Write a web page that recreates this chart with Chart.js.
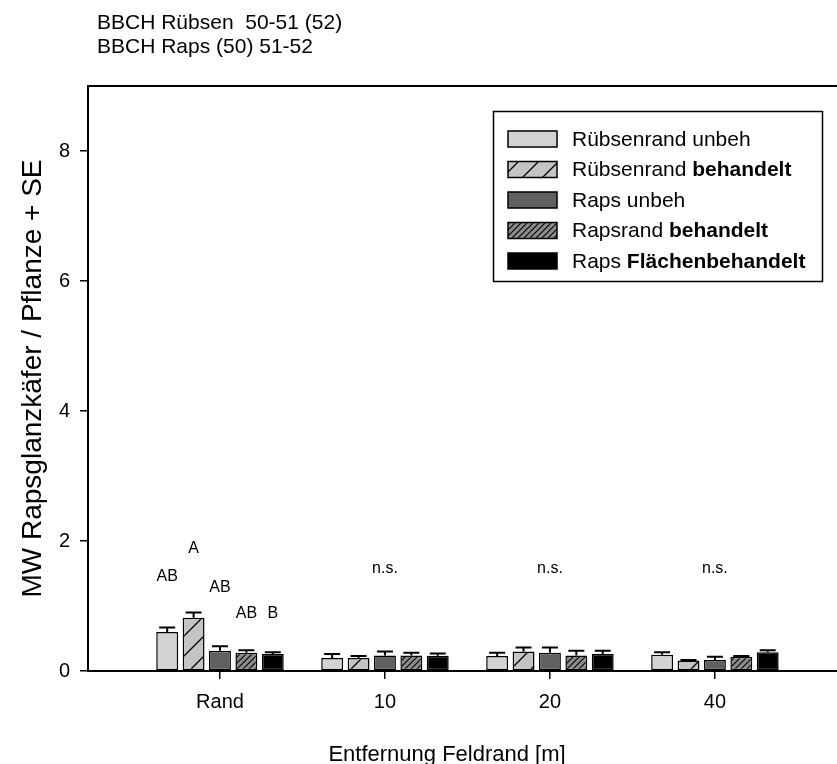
<!DOCTYPE html>
<html>
<head>
<meta charset="utf-8">
<script src="https://cdn.jsdelivr.net/npm/chart.js@4.4.0/dist/chart.umd.min.js"></script>
<style>
  html, body { margin: 0; padding: 0; background: #fff; }
</style>
</head>
<body>
<canvas id="chart" width="837" height="764"></canvas>
<script>
// data
const categories = ["Rand", "10", "20", "40"];
const rubsenUnbeh = [0.60, 0.20, 0.23, 0.25];
const rubsenBeh = [0.82, 0.20, 0.30, 0.16];
const rapsUnbeh = [0.31, 0.24, 0.28, 0.17];
const rapsrandBeh = [0.28, 0.24, 0.24, 0.22];
const rapsFlaeche = [0.26, 0.235, 0.26, 0.29];

const seRubsenUnbeh = [0.07, 0.06, 0.05, 0.04];
const seRubsenBeh = [0.08, 0.03, 0.06, 0.01];
const seRapsUnbeh = [0.07, 0.06, 0.08, 0.05];
const seRapsrandBeh = [0.04, 0.04, 0.07, 0.01];
const seRapsFlaeche = [0.03, 0.035, 0.05, 0.03];

const yTicks = [0, 2, 4, 6, 8];

// legend text: normal part, bold part
const legendNormal = ["Rübsenrand unbeh", "Rübsenrand ", "Raps unbeh", "Rapsrand ", "Raps "];
const legendBold = ["", "behandelt", "", "behandelt", "Flächenbehandelt"];

// significance letters (only Rand group), and their heights
const randLetters = ["AB", "A", "AB", "AB", "B"];
const randLetterY = [1.45, 1.89, 1.29, 0.89, 0.89];
const nsText = "n.s.";
const nsY = 1.58;

const headerLines = ["BBCH Rübsen  50-51 (52)", "BBCH Raps (50) 51-52"];
const yTitle = "MW Rapsglanzkäfer / Pflanze + SE";
const xTitle = "Entfernung Feldrand [m]";

const FONT = '"Liberation Sans", Arial, sans-serif';

const ctx = document.getElementById("chart").getContext("2d");

function hatch(bg, step, lw) {
  const c = document.createElement("canvas");
  c.width = step;
  c.height = step;
  const g = c.getContext("2d");
  g.fillStyle = bg;
  g.fillRect(0, 0, step, step);
  g.strokeStyle = "#000";
  g.lineWidth = lw;
  g.beginPath();
  g.moveTo(-1, step + 1); g.lineTo(step + 1, -1);
  g.moveTo(-1, 1); g.lineTo(1, -1);
  g.moveTo(step - 1, step + 1); g.lineTo(step + 1, step - 1);
  g.stroke();
  return ctx.createPattern(c, "repeat");
}

const fills = [
  "#d3d3d3",
  hatch("#c4c4c4", 20, 1.3),
  "#606060",
  hatch("#8c8c8c", 6, 1.1),
  "#000000",
];
const values = [rubsenUnbeh, rubsenBeh, rapsUnbeh, rapsrandBeh, rapsFlaeche];
const errors = [seRubsenUnbeh, seRubsenBeh, seRapsUnbeh, seRapsrandBeh, seRapsFlaeche];

const extras = {
  id: "extras",
  afterDatasetsDraw(chart) {
    const c = chart.ctx;
    const y = chart.scales.y;
    c.save();
    c.strokeStyle = "#000";
    c.lineWidth = 2;
    chart.data.datasets.forEach((ds, i) => {
      chart.getDatasetMeta(i).data.forEach((bar, k) => {
        const top = y.getPixelForValue(values[i][k] + errors[i][k]);
        c.beginPath();
        c.moveTo(bar.x, bar.y);
        c.lineTo(bar.x, top);
        c.moveTo(bar.x - 8, top);
        c.lineTo(bar.x + 8, top);
        c.stroke();
      });
    });
    c.restore();
  },
  afterDraw(chart) {
    const c = chart.ctx;
    const a = chart.chartArea;
    const y = chart.scales.y;
    const x = chart.scales.x;
    c.save();
    // top frame line
    c.strokeStyle = "#000";
    c.lineWidth = 2;
    c.beginPath();
    c.moveTo(a.left, a.top);
    c.lineTo(chart.width, a.top);
    c.stroke();

    c.fillStyle = "#000";
    // header
    c.font = "21px " + FONT;
    c.textAlign = "left";
    c.textBaseline = "alphabetic";
    c.fillText(headerLines[0], 97, 29);
    c.fillText(headerLines[1], 97, 53);

    // axis titles
    c.font = "22px " + FONT;
    c.textAlign = "center";
    c.fillText(xTitle, 447, 761);
    c.save();
    c.font = "28px " + FONT;
    c.translate(41, (a.top + a.bottom) / 2);
    c.rotate(-Math.PI / 2);
    c.fillText(yTitle, 0, 0);
    c.restore();

    // letters
    c.font = "16px " + FONT;
    c.textBaseline = "middle";
    randLetters.forEach((t, i) => {
      const bar = chart.getDatasetMeta(i).data[0];
      c.fillText(t, bar.x, y.getPixelForValue(randLetterY[i]));
    });
    for (let k = 1; k < categories.length; k++) {
      c.fillText(nsText, x.getPixelForValue(k), y.getPixelForValue(nsY));
    }

    // legend
    c.lineWidth = 1.5;
    c.strokeRect(493.5, 111.5, 329, 170);
    c.textAlign = "left";
    legendNormal.forEach((t, i) => {
      const cy = 139 + i * 30.5;
      c.fillStyle = fills[i];
      c.fillRect(508, cy - 8, 49, 16);
      c.strokeRect(508, cy - 8, 49, 16);
      c.fillStyle = "#000";
      c.font = "21px " + FONT;
      c.fillText(t, 572, cy + 1);
      const w = c.measureText(t).width;
      c.font = "bold 21px " + FONT;
      c.fillText(legendBold[i], 572 + w, cy + 1);
    });
    c.restore();
  },
};

new Chart(ctx, {
  type: "bar",
  data: {
    datasets: values.map((vals, i) => ({
      label: legendNormal[i] + legendBold[i],
      data: vals.map((v, k) => ({ x: k, y: v })),
      backgroundColor: fills[i],
      borderColor: "#000",
      borderWidth: 1.5,
      borderSkipped: false,
      categoryPercentage: 0.8,
      barPercentage: 0.83,
    })),
  },
  options: {
    responsive: false,
    animation: false,
    devicePixelRatio: 1,
    layout: { padding: { top: 86, right: 0, left: 0, bottom: 0 } },
    plugins: { legend: { display: false }, tooltip: { enabled: false } },
    scales: {
      x: {
        type: "linear",
        min: -0.8,
        max: 3.74,
        offset: false,
        grid: { display: true, offset: false, drawOnChartArea: false, drawTicks: true, tickLength: 8, color: "#000", lineWidth: 1.5 },
        border: { display: true, color: "#000", width: 2 },
        ticks: {
          color: "#000",
          font: { family: FONT, size: 20 },
          padding: 11,
          maxRotation: 0,
          callback: v => categories[v],
        },
        afterBuildTicks: s => { s.ticks = categories.map((_, i) => ({ value: i })); },
        afterFit: s => { s.height = 93; },
      },
      y: {
        min: 0,
        max: 9,
        grid: { display: true, drawOnChartArea: false, drawTicks: true, tickLength: 8, color: "#000", lineWidth: 1.5 },
        border: { display: true, color: "#000", width: 2 },
        ticks: { color: "#000", font: { family: FONT, size: 20 }, padding: 10 },
        afterBuildTicks: s => { s.ticks = yTicks.map(v => ({ value: v })); },
        afterFit: s => { s.width = 88; },
      },
    },
  },
  plugins: [extras],
});
</script>
</body>
</html>
